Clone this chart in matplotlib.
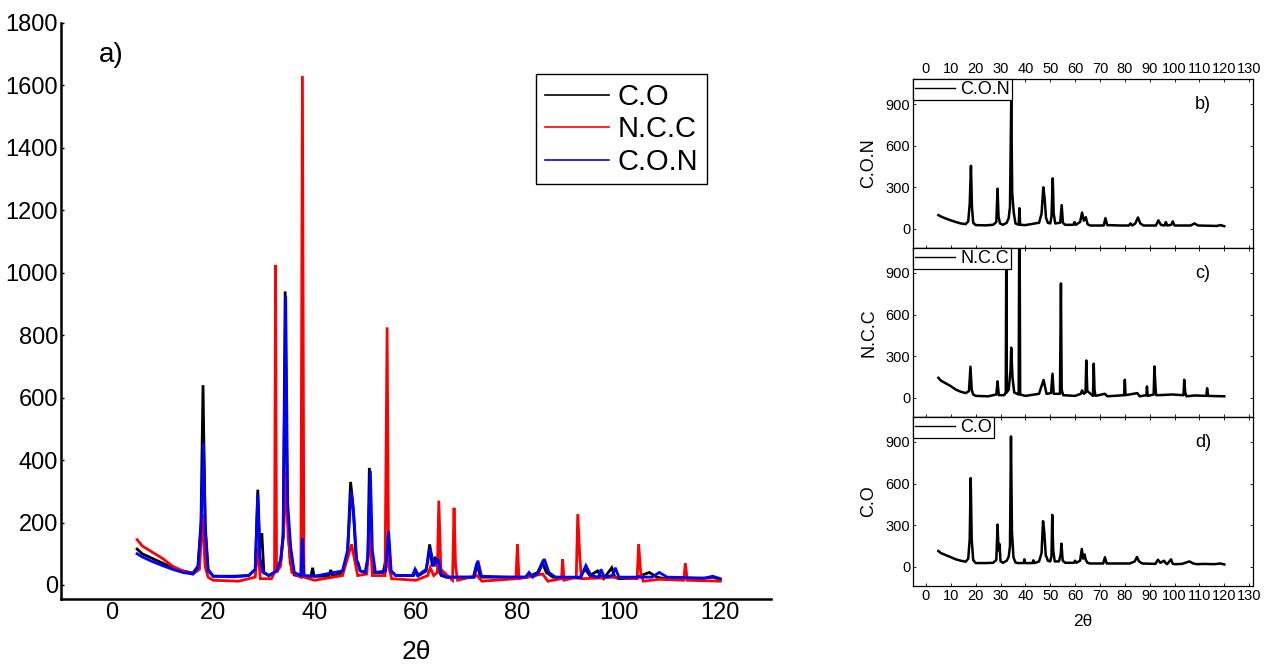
import matplotlib
matplotlib.use('Agg')
import matplotlib.pyplot as plt

plt.rcParams['font.family'] = ['Liberation Sans', 'DejaVu Sans']

# ---- data (2theta, counts) ----
co_pts = [(5,115),(6,100),(8,85),(10,70),(12,55),(14,45),(16,38),(17,60),(17.6,200),(18.0,640),(18.4,200),(19,50),(20,28),
          (24,28),(27,30),(28.3,50),(28.8,305),(29.2,120),(29.6,165),(30.0,40),(31,30),(32.5,45),(33.3,75),(33.8,150),
          (34.2,940),(34.6,250),(35.2,70),(36,32),(37,28),(39.3,28),(39.6,55),(39.9,28),(42.8,28),(43.2,48),(43.6,28),
          (45.5,40),(46.5,100),(47.1,330),(47.6,250),(48.2,80),(48.6,70),(49,45),(50,40),(50.5,80),(50.8,375),(51.2,120),
          (51.8,40),(53.5,40),(54.2,90),(54.5,168),(55.0,45),(56,30),(59.5,30),(60,45),(60.5,30),(62,45),(62.7,130),
          (63.2,60),(63.8,90),(64.3,50),(65,30),(66,25),(71.3,25),(72,70),(72.7,25),(78,25),(82,25),(84,40),(84.9,72),
          (85.7,40),(87,25),(92.3,22),(93.3,52),(94.3,30),(95.8,45),(96.4,28),(97,20),(98.6,55),(99.2,25),(100,20),
          (103,22),(106,40),(107.5,25),(109,20),(112,22),(116,20),(118.5,25),(120,18)]

ncc_pts = [(5,145),(6,125),(8,105),(10,85),(12,60),(14,45),(16,35),(17.3,50),(17.9,225),(18.4,60),(19,25),(20,15),
           (25,12),(28.3,25),(28.8,120),(29.3,20),(31.5,20),(32.1,40),(32.3,1025),(32.5,40),(33.3,60),(34.0,200),
           (34.3,362),(34.8,150),(35.5,40),(37.3,25),(37.6,1630),(37.9,25),(40,15),(45.5,30),(47.3,130),(48.5,30),
           (50.3,35),(50.9,175),(51.4,30),(53.9,30),(54.3,825),(54.6,60),(55.2,20),(60,15),(62.3,30),(62.8,55),
           (63.5,30),(64.2,40),(64.5,270),(64.9,50),(67.2,15),(67.5,247),(67.8,60),(68.2,15),(72,30),(73,12),
           (79.7,20),(80.0,131),(80.3,20),(85,35),(86,12),(88.7,20),(88.9,83),(89.2,15),(91.6,25),(91.9,227),
           (92.3,90),(92.6,20),(96,22),(99,25),(103.6,20),(103.9,131),(104.3,40),(104.8,12),(108,18),(112.8,15),
           (113.1,70),(113.5,15),(120,12)]

con_pts = [(5,100),(6,90),(8,75),(10,62),(12,50),(14,40),(16,35),(17,55),(17.6,180),(18.1,455),(18.5,160),(19,45),
           (20,28),(24,26),(27,30),(28.3,50),(28.8,290),(29.2,90),(29.8,40),(31,30),(32.5,45),(33.3,80),(33.8,160),
           (34.3,925),(34.7,260),(35.3,120),(36,40),(37.3,30),(37.6,150),(37.9,30),(40,28),(45.5,45),(46.5,110),
           (47.2,300),(47.7,230),(48.3,80),(49,45),(50,40),(50.5,90),(51.0,365),(51.4,110),(52,40),(54,45),(54.6,172),
           (55.1,45),(56,30),(59.3,30),(59.8,50),(60.3,30),(62,50),(62.8,118),(63.5,60),(64.3,85),(65,35),(66,25),
           (71.5,25),(72.2,78),(72.9,28),(78,25),(81.6,25),(82.3,40),(83,25),(84.2,40),(85.3,83),(86.2,40),(87.5,25),
           (92.5,25),(93.5,62),(94.5,30),(96,25),(96.5,50),(97.1,25),(98.7,30),(99.3,55),(100,25),(106.5,25),(108,40),
           (109.5,25),(117,22),(118.5,28),(120,20)]

series_names = ['C.O', 'N.C.C', 'C.O.N']
series_pts = [co_pts, ncc_pts, con_pts]
series_colors = ['black', 'red', 'blue']

fig = plt.figure(figsize=(12.66, 6.64), dpi=100)

# ================= panel a) =================
ax = fig.add_axes([0.0482, 0.0979, 0.5608, 0.8675])
for name, pts, col in zip(series_names, series_pts, series_colors):
    xs = [p[0] for p in pts]; ys = [p[1] for p in pts]
    ax.plot(xs, ys, color=col, lw=2.0, label=name, solid_joinstyle='miter')
ax.set_xlim(-10, 130)
ax.set_ylim(-45, 1800)
ax.set_xticks([0, 20, 40, 60, 80, 100, 120])
ax.set_yticks(range(0, 1801, 200))
ax.spines['top'].set_visible(False)
ax.spines['right'].set_visible(False)
ax.spines['left'].set_linewidth(1.8)
ax.spines['bottom'].set_linewidth(1.8)
ax.tick_params(axis='both', labelsize=17, direction='in', length=2, width=1)
ax.tick_params(axis='x', length=0, pad=2)
ax.tick_params(axis='y', pad=2)
ax.set_xlabel('2\u03b8', fontsize=19, labelpad=12)
ax.text(0.053, 0.944, 'a)', transform=ax.transAxes, fontsize=20, ha='left', va='center')
leg = ax.legend(loc='upper left', bbox_to_anchor=(0.669, 0.911), borderaxespad=0, fontsize=21,
                handlelength=2.2, handletextpad=0.3, labelspacing=0.15, fancybox=False, framealpha=1,
                borderpad=0.3)
leg.get_frame().set_edgecolor('black')
leg.get_frame().set_linewidth(1.0)
for ln in leg.get_lines():
    ln.set_linewidth(1.2)

# ================= panels b) c) d) =================
small = [('C.O.N', con_pts, 'b)', 0.6265), ('N.C.C', ncc_pts, 'c)', 0.372), ('C.O', co_pts, 'd)', 0.1175)]
for i, (name, pts, tag, bot) in enumerate(small):
    sx = fig.add_axes([0.7212, bot, 0.2686, 0.2545])
    xs = [p[0] for p in pts]; ys = [p[1] for p in pts]
    sx.plot(xs, ys, color='black', lw=1.8, label=name)
    sx.set_xlim(-5.2, 131.6)
    sx.set_ylim(-137, 1080)
    sx.set_xticks(range(0, 131, 10))
    sx.set_yticks([0, 300, 600, 900])
    sx.tick_params(axis='both', labelsize=10.5, direction='in', length=2, width=0.6,
                   top=True, right=True, pad=2)
    sx.tick_params(axis='x', labeltop=(i == 0), labelbottom=(i == 2))
    for s in sx.spines.values():
        s.set_linewidth(0.9)
    sx.set_ylabel(name, fontsize=13, labelpad=6)
    sx.text(0.83, 0.85, tag, transform=sx.transAxes, fontsize=13, ha='left', va='center')
    lg = sx.legend(loc='upper left', borderaxespad=0, fontsize=13, handlelength=2.2, handletextpad=0.3,
                   fancybox=False, framealpha=1, borderpad=0.12)
    lg.get_frame().set_edgecolor('black')
    lg.get_frame().set_linewidth(0.9)
    for ln in lg.get_lines():
        ln.set_linewidth(1.0)
    if i == 2:
        sx.set_xlabel('2\u03b8', fontsize=12.5, labelpad=8)

fig.savefig('out.png', dpi=100)
